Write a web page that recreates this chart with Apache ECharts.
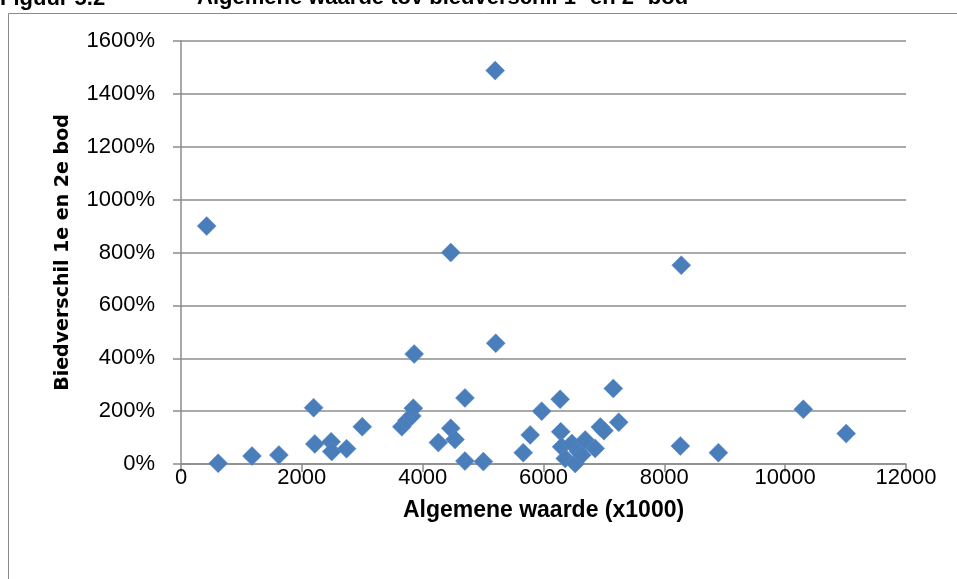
<!DOCTYPE html>
<html>
<head>
<meta charset="utf-8">
<script src="https://cdn.jsdelivr.net/npm/echarts@6/dist/echarts.min.js"></script>
<style>
html,body{margin:0;padding:0;background:#fff;}
#c{width:957px;height:579px;}
</style>
</head>
<body>
<div id="c"></div>
<script>
// Algemene waarde (x1000)
const waarde = [425, 615, 1175, 1620, 2195, 2215, 2485, 2495, 2740, 3000,
  3655, 3740, 3820, 3845, 3860, 4260, 4465, 4535, 4465, 4700,
  4700, 5005, 5200, 5210, 5665, 5780, 5970, 6275, 6285, 6300,
  6360, 6470, 6525, 6580, 6635, 6690, 6855, 6940, 7000, 7155,
  7245, 8265, 8280, 8895, 10300, 11010];
// Biedverschil 1e en 2e bod (%)
const biedverschil = [900, 3, 30, 34, 213, 76, 84, 47, 58, 141,
  141, 165, 182, 211, 416, 81, 135, 93, 800, 250,
  11, 9, 1488, 457, 43, 110, 200, 245, 122, 65,
  21, 78, 2, 47, 34, 91, 59, 140, 126, 286,
  158, 68, 752, 43, 207, 115];
const xTicks = {min: 0, max: 12000, interval: 2000};
const yTicks = {min: 0, max: 1600, interval: 200};

const points = waarde.map((x, i) => [x, biedverschil[i]]);

const chart = echarts.init(document.getElementById('c'), null, {renderer: 'canvas'});
const gridColor = '#8c8c8c';
const sans = '"Liberation Sans", Arial, sans-serif';
chart.setOption({
  animation: false,
  backgroundColor: '#fff',
  graphic: [
    {type: 'rect', shape: {x: 8.5, y: 13.5, width: 1000, height: 700}, style: {fill: 'none', stroke: '#8a8a8a', lineWidth: 1}, silent: true},
    {type: 'text', x: 0, y: 10, style: {text: 'Figuur 5.2', font: 'bold 22px "Liberation Sans", Arial, sans-serif', fill: '#000', verticalAlign: 'bottom'}},
    {type: 'text', x: 197, y: 10, style: {text: 'Algemene waarde tov biedverschil 1{s|e} en 2{s|e} bod', font: 'bold 22px "Liberation Sans", Arial, sans-serif', fill: '#000', verticalAlign: 'bottom',
      rich: {s: {fontSize: 14, fontWeight: 'bold', fontFamily: sans, padding: [0, 0, 10, 0]}}}}
  ],
  grid: {left: 181, right: 51, top: 41, bottom: 115, containLabel: false},
  xAxis: {
    type: 'value', min: xTicks.min, max: xTicks.max, interval: xTicks.interval,
    name: 'Algemene waarde (x1000)', nameLocation: 'middle', nameGap: 35,
    nameTextStyle: {fontFamily: sans, fontWeight: 'bold', fontSize: 23, color: '#000'},
    axisLine: {show: true, lineStyle: {color: gridColor, width: 1.5}},
    axisTick: {show: true, length: 8, lineStyle: {color: gridColor, width: 1.5}},
    axisLabel: {margin: 3, formatter: (v) => String(v), fontFamily: sans, fontSize: 22, color: '#000'},
    splitLine: {show: false}
  },
  yAxis: {
    type: 'value', min: yTicks.min, max: yTicks.max, interval: yTicks.interval,
    name: 'Biedverschil 1e en 2e bod', nameLocation: 'middle', nameGap: 108, nameRotate: 90,
    nameTextStyle: {fontFamily: '"DejaVu Sans", Verdana, sans-serif', fontWeight: 'bold', fontSize: 19, color: '#000'},
    axisLine: {show: true, lineStyle: {color: gridColor, width: 1.5}},
    axisTick: {show: true, length: 8, lineStyle: {color: gridColor, width: 1.5}},
    axisLabel: {margin: 26, formatter: (v) => v + '%', fontFamily: sans, fontSize: 22, color: '#000'},
    splitLine: {show: true, lineStyle: {color: gridColor, width: 1.5}}
  },
  series: [{
    type: 'scatter',
    data: points,
    symbol: 'diamond',
    symbolSize: 19,
    itemStyle: {color: '#4a7ebb', borderColor: '#5a8ac6', borderWidth: 0.5, opacity: 1}
  }]
});
</script>
</body>
</html>
